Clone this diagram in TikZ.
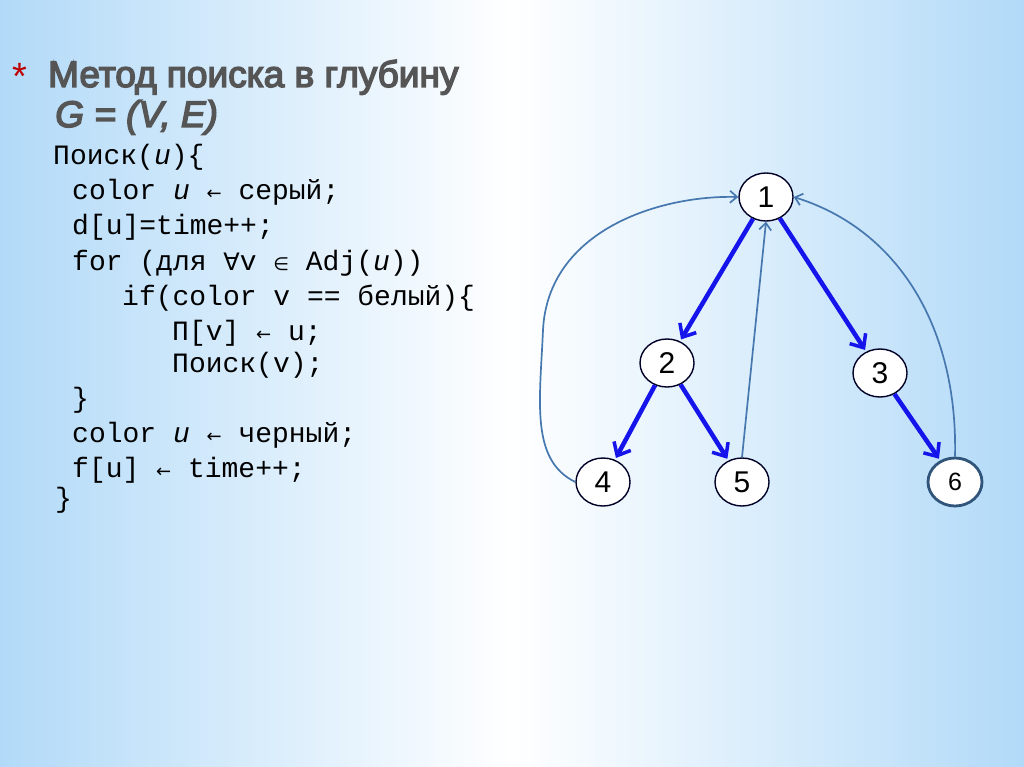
\documentclass[tikz,border=0pt]{standalone}
\usepackage{fontspec}
\setmainfont{Liberation Sans}
\newfontfamily\codefont{Liberation Mono}
\newfontfamily\titlefont{Liberation Sans}[FakeBold=4]
\newfontfamily\symfont{DejaVu Sans}
\usetikzlibrary{shapes.geometric,arrows.meta}
\definecolor{bgblue}{RGB}{178,218,248}
\definecolor{edgeblue}{RGB}{20,20,235}
\definecolor{backblue}{RGB}{70,120,175}
\definecolor{titlegray}{RGB}{85,85,85}
\tikzset{
  vtx/.style={ellipse,draw=black!85!blue,line width=1.4pt,fill=white,minimum width=54pt,minimum height=48pt,inner sep=0pt,font=\fontsize{30}{30}\selectfont},
  tree/.style={draw=edgeblue,line width=4.5pt,-{Straight Barb[length=11pt,width=19pt,line width=3.5pt]},shorten >=2pt},
  back/.style={draw=backblue,line width=1.7pt,-{Straight Barb[length=7pt,width=12pt,line width=1.7pt]}},
  code/.style={anchor=base west,inner sep=0pt,font=\codefont\fontsize{28}{28}\selectfont}
}
\begin{document}
\begin{tikzpicture}[x=1pt,y=-1pt]
\useasboundingbox (0,0) rectangle (1024,767);
\shade[left color=bgblue,right color=bgblue,middle color=white] (0,0) rectangle (1024,767);
% title
\node[anchor=base west,inner sep=0pt,text=red!75!black,font=\fontsize{38}{38}\selectfont] (ast) at (12,90) {*};
\node[anchor=base west,inner sep=0pt,text=titlegray,font=\titlefont\fontsize{37}{37}\selectfont] (t1) at (48,87) {Метод поиска в глубину};
\node[anchor=base west,inner sep=0pt,text=titlegray,font=\titlefont\itshape\fontsize{37}{37}\selectfont] (t2) at (55,127) {G = (V, E)};
% code
\node[code] (c1) at (53,165) {Поиск(\textit{u})\{};
\node[code] (c2) at (72,200) {color \textit{u} {\symfont\fontsize{18}{18}\selectfont ←} серый;};
\node[code] (c3) at (72,235) {d[u]=time++;};
\node[code] (c4) at (72,270) {for (для {\symfont\fontsize{24}{24}\selectfont ∀}v {\symfont\fontsize{18}{18}\selectfont ∈} Adj(\textit{u}))};
\node[code] (c5) at (122,305) {if(color v == белый)\{};
\node[code] (c6) at (172,340) {П[v] {\symfont\fontsize{18}{18}\selectfont ←} u;};
\node[code] (c7) at (172,372) {Поиск(v);};
\node[code] (c8) at (72,407) {\}};
\node[code] (c9) at (72,442) {color \textit{u} {\symfont\fontsize{18}{18}\selectfont ←} черный;};
\node[code] (c10) at (72,477) {f[u] {\symfont\fontsize{18}{18}\selectfont ←} time++;};
\node[code] (c11) at (55,507) {\}};
% graph
\node[vtx] (n1) at (766,197) {1};
\node[vtx] (n2) at (667,363) {2};
\node[vtx] (n3) at (880,373) {3};
\node[vtx] (n4) at (603,482) {4};
\node[vtx] (n5) at (742,482) {5};
\node[vtx,draw=backblue!70!black,line width=2.8pt,font=\fontsize{25}{25}\selectfont] (n6) at (955,482) {6};
\draw[tree] (n1) -- (n2);
\draw[tree] (n1) -- (n3);
\draw[tree] (n2) -- (n4);
\draw[tree] (n2) -- (n5);
\draw[tree] (n3) -- (n6);
\draw[back] (n4.west) .. controls (530,460) and (540,400) .. (543,330)
  .. controls (548,230) and (660,195) .. (n1.west);
\draw[back] (n5.north) -- (n1.south);
\draw[back] (n6.north) .. controls (958,330) and (900,230) .. (n1.east);
\end{tikzpicture}
\end{document}
